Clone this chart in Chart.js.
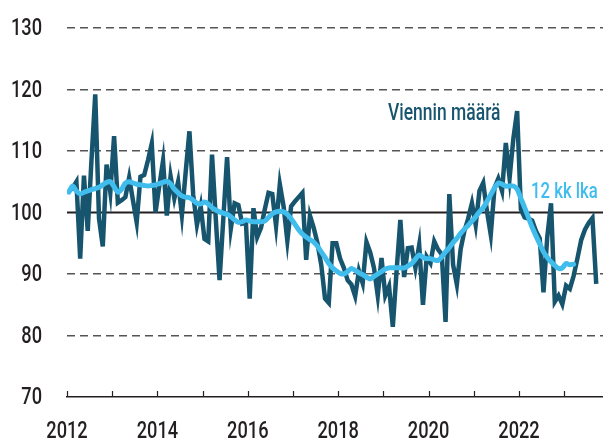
<!DOCTYPE html>
<html>
<head>
<meta charset="utf-8">
<script src="https://cdn.jsdelivr.net/npm/chart.js@4"></script>
<style>
  html, body { margin: 0; padding: 0; background: #fff; }
</style>
</head>
<body>
<canvas id="chart" width="603" height="444"></canvas>
<script>
// monthly index, first month = Jan 2012
var firstYear = 2012;
var lastYear = 2023;

// Viennin määrä (monthly)
var exportVolume = [
  103.5, 104, 105, 92.5, 106, 97, 108.5, 119.2, 99, 94.5, 107.8, 103.3,
  112.4, 101.6, 102, 102.5, 105.7, 102, 98.4, 105.8, 106.1, 108.5, 111.2, 100,
  104.3, 108.4, 99.5, 105.9, 102.3, 105, 99.6, 106.5, 113.2, 102.9, 98, 101,
  95.7, 95.3, 109.4, 99, 89, 99, 109, 97.4, 101.5, 101.2, 98.2, 98.4,
  86, 100.7, 96, 97.5, 100.5, 103.2, 103, 97.8, 104.6, 101, 95.4, 101,
  101.8, 102.5, 103.2, 92.3, 99.5, 97.5, 95, 91.5, 86, 85.3, 95, 95,
  92.5, 91, 89, 88.3, 86.4, 90.5, 88.5, 95.2, 93.5, 91, 86.5, 92.6,
  86.5, 88, 81.4, 90.5, 98.8, 89.5, 94.2, 94.3, 91, 94.7, 85, 92.8,
  91.8, 95.3, 94, 93.2, 82.2, 103, 91.5, 88.3, 94, 97, 99, 101.5,
  98, 103.5, 104.8, 100.2, 96.4, 104, 105.5, 103.5, 111.3, 105.6, 112, 116.5,
  100.5, 99.2, 99, 98.7, 97, 95.8, 87, 96, 101.5, 85.5, 86.5, 85.1,
  88.1, 87.6, 89.7, 92.5, 95.5, 97.2, 98.3, 99.1, 88.4
];

// 12 kk lka (12-month moving average)
var movingAvg = [
  103.3, 104.3, 103.5, 103, 103.3, 103.5, 103.7, 103.9, 104.1, 104.5, 104.9, 105,
  104.2, 103.3, 103.8, 104.8, 105, 104.8, 104.6, 104.5, 104.4, 104.3, 104.4, 104.5,
  104.7, 104.9, 105.1, 104.7, 103.8, 103.2, 102.7, 102.5, 102.4, 102, 101.5, 101.4,
  101.7, 101.4, 100.8, 100.4, 100.1, 99.9, 99.7, 99.3, 98.8, 98.4, 98.5, 98.8,
  98.6, 98.5, 98.5, 98.5, 98.6, 99.2, 99.8, 100.1, 100.2, 100.1, 99.7, 99,
  98.1, 97.2, 96.5, 96, 95.6, 95.2, 94.5, 93.6, 92.7, 91.7, 91, 90.5,
  90.1, 90, 90.4, 90.9, 90.6, 90.2, 89.9, 89.5, 89.2, 89.6, 90, 90.4,
  90.8, 91, 91, 91, 91, 91, 91.3, 91.7, 92.4, 93.1, 92.7, 92.5,
  92.5, 92.3, 92.2, 92.8, 93.6, 94.3, 95.1, 95.8, 96.6, 97.3, 97.9, 98.6,
  99.3, 100.1, 100.8, 101.8, 102.9, 104, 104.8, 104.6, 104.3, 104.3, 104.3, 103.8,
  102.3, 100.8, 99.2, 97.6, 96.2, 94.9, 93.6, 92.7, 92, 91.4, 90.9, 91,
  91.7, 91.5, 91.6
];

var seriesLabels = ['Viennin määrä', '12 kk lka'];

function toPoints(arr) {
  return arr.map(function (v, i) {
    return { x: firstYear + (i + 0.5) / 12, y: v };
  });
}

var darkBlue = '#17556f';
var lightBlue = '#40bdec';
var textColor = '#231f20';
var fontFam = 'Roboto, "Liberation Sans", sans-serif';
var squeeze = 0.76;   // condensed look

function narrowText(ctx, str, x, y, size, color, align, baseline) {
  ctx.save();
  ctx.font = '500 ' + size + 'px ' + fontFam;
  ctx.fillStyle = color;
  ctx.textAlign = align;
  ctx.textBaseline = baseline;
  ctx.translate(x, y);
  ctx.scale(squeeze, 1);
  ctx.fillText(str, 0, 0);
  ctx.restore();
}

var extras = {
  id: 'extras',
  beforeDatasetsDraw: function (chart) {
    var ctx = chart.ctx, a = chart.chartArea;
    var xs = chart.scales.x, ys = chart.scales.y;
    ctx.save();
    ctx.strokeStyle = textColor;
    ctx.lineWidth = 1.8;
    var y100 = ys.getPixelForValue(100);
    ctx.beginPath();
    ctx.moveTo(a.left, y100);
    ctx.lineTo(a.right, y100);
    ctx.stroke();
    ctx.lineWidth = 1.2;
    for (var yr = firstYear; yr <= lastYear; yr++) {
      var px = Math.round(xs.getPixelForValue(yr)) + 0.5;
      ctx.beginPath();
      ctx.moveTo(px, a.bottom);
      ctx.lineTo(px, a.bottom - 6);
      ctx.stroke();
    }
    ctx.restore();
  },
  afterDraw: function (chart) {
    var ctx = chart.ctx, a = chart.chartArea;
    var xs = chart.scales.x, ys = chart.scales.y;
    ys.ticks.forEach(function (t) {
      narrowText(ctx, String(t.value), 42, ys.getPixelForValue(t.value) + 1, 24, textColor, 'right', 'middle');
    });
    for (var yr = firstYear; yr <= lastYear; yr += 2) {
      narrowText(ctx, String(yr), xs.getPixelForValue(yr), a.bottom + 35, 24, textColor, 'center', 'middle');
    }
    narrowText(ctx, seriesLabels[0], 388, 120, 23, darkBlue, 'left', 'alphabetic');
    narrowText(ctx, seriesLabels[1], 531, 198, 22, lightBlue, 'left', 'alphabetic');
  }
};

new Chart(document.getElementById('chart').getContext('2d'), {
  type: 'line',
  data: {
    datasets: [
      {
        label: seriesLabels[0],
        data: toPoints(exportVolume),
        borderColor: darkBlue,
        borderWidth: 4.5,
        pointRadius: 0,
        tension: 0,
        order: 2
      },
      {
        label: seriesLabels[1],
        data: toPoints(movingAvg),
        borderColor: lightBlue,
        borderWidth: 5,
        pointRadius: 0,
        tension: 0.3,
        borderCapStyle: 'round',
        borderJoinStyle: 'round',
        order: 1
      }
    ]
  },
  options: {
    responsive: false,
    animation: false,
    layout: { padding: { top: 28, right: 0, bottom: 0, left: 0 } },
    plugins: {
      legend: { display: false },
      tooltip: { enabled: false }
    },
    scales: {
      x: {
        type: 'linear',
        min: firstYear,
        max: firstYear + 536 / 45.2,
        grid: { display: false, drawTicks: false },
        border: { display: true, color: textColor, width: 1.5 },
        afterFit: function (s) { s.height = 47; },
        ticks: { display: false, stepSize: 1 }
      },
      y: {
        min: 70,
        max: 130,
        afterFit: function (s) { s.width = 67; },
        border: { display: false, dash: [8, 5] },
        grid: {
          drawTicks: false,
          lineWidth: 1.4,
          color: function (c) {
            var v = c.tick && c.tick.value;
            return (v === 100 || v === 70) ? 'rgba(0,0,0,0)' : '#555';
          }
        },
        ticks: { display: false, stepSize: 10 }
      }
    }
  },
  plugins: [extras]
});
</script>
</body>
</html>
